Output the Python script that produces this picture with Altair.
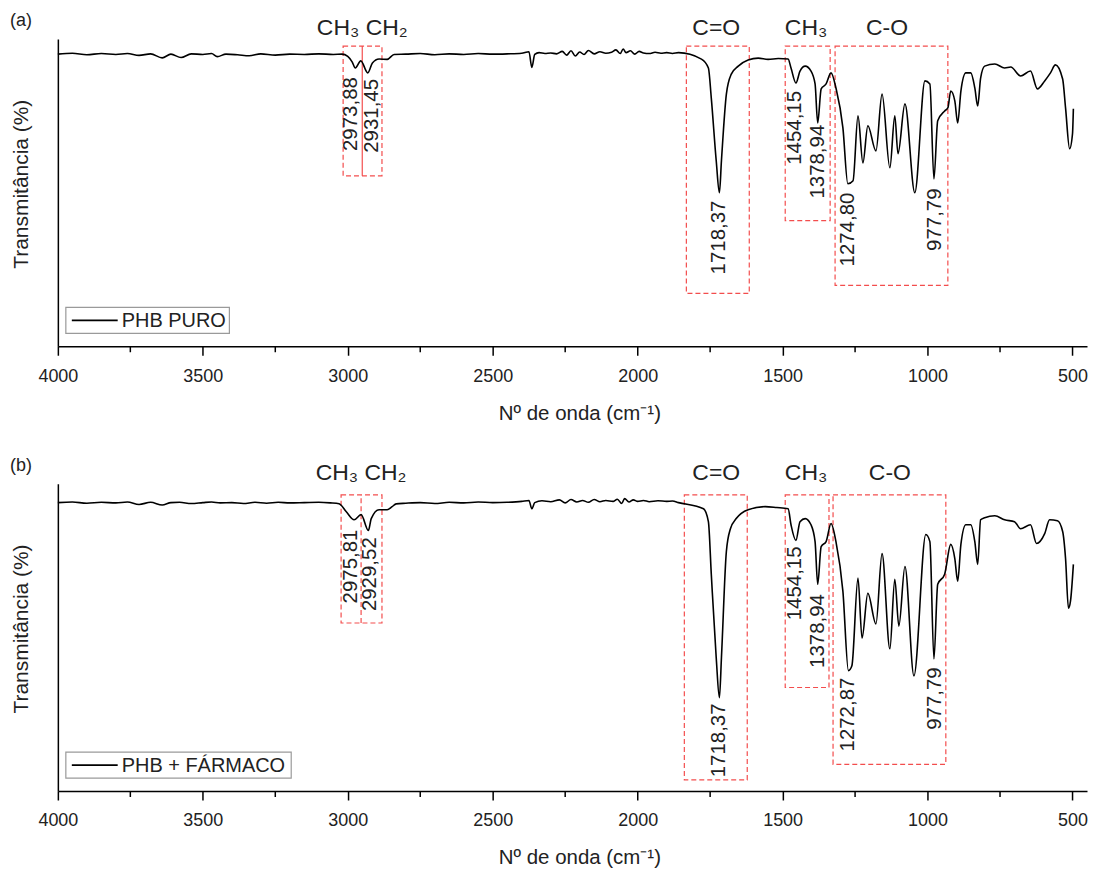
import altair as alt
import pandas as pd

FONT = "Liberation Sans"
TXT = "#222222"
RED = "#f23a3a"

# ---------------- spectrum (a): PHB PURO ----------------
wn_a = [4000, 3950, 3900, 3850, 3800, 3760, 3720, 3680, 3640, 3610, 3575, 3540, 3500, 3470, 3450,
        3420, 3380, 3340, 3300, 3250, 3200, 3150, 3100, 3050, 3020, 3000, 2985, 2974, 2955, 2931,
        2915, 2892, 2864, 2840, 2800, 2750, 2700, 2650, 2600, 2550, 2500, 2450, 2400, 2375, 2365,
        2355, 2340, 2320, 2300, 2280, 2260, 2245, 2230, 2215, 2200, 2185, 2170, 2150, 2130, 2110,
        2090, 2075, 2060, 2050, 2040, 2025, 2010, 1995, 1980, 1960, 1940, 1920, 1900, 1880, 1859,
        1780, 1756, 1746, 1729, 1718, 1711, 1694, 1677, 1653, 1619, 1584, 1550, 1515, 1481, 1471,
        1454, 1440, 1422, 1402, 1388, 1379, 1367, 1350, 1333, 1316, 1292, 1275, 1257, 1240, 1223,
        1206, 1178, 1157, 1130, 1113, 1102, 1078, 1044, 1009, 992, 978, 965, 941, 930, 920,
        906, 896, 885, 868, 851, 837, 827, 817, 803, 768, 734, 713, 679, 645, 621,
        596, 576, 559, 534, 524, 510, 500, 497]
t_a = [95.1, 95.4, 94.9, 95.3, 95.0, 95.3, 94.7, 95.2, 93.9, 95.1, 94.0, 95.2, 95.0, 95.3, 94.3,
       95.1, 94.9, 94.6, 95.2, 94.8, 95.1, 95.0, 95.2, 95.0, 95.1, 94.4, 92.6, 90.6, 92.9, 89.0,
       92.2, 93.5, 93.4, 95.0, 95.1, 95.3, 94.9, 95.2, 95.0, 95.3, 95.1, 95.2, 95.4, 95.9, 90.8,
       95.0, 95.6, 95.3, 95.5, 95.2, 96.0, 94.8, 96.2, 94.5, 95.8, 95.0, 96.3, 95.2, 95.9, 95.4,
       95.7, 96.5, 95.3, 96.8, 95.6, 96.2, 95.1, 96.0, 95.5, 95.3, 95.7, 95.4, 95.6, 95.3, 95.6,
       93.5, 90.6, 80.8, 60.4, 50.0, 60.4, 82.1, 88.6, 91.2, 93.2, 93.8, 93.4, 93.7, 93.5, 90.6,
       85.7, 89.6, 91.2, 89.6, 85.4, 72.7, 83.8, 85.4, 89.0, 84.1, 71.1, 52.9, 53.9, 75.0, 59.7,
       71.8, 63.6, 82.1, 58.1, 75.0, 62.7, 78.9, 50.0, 86.4, 85.4, 54.5, 73.4, 76.6, 77.6, 83.1,
       79.9, 72.7, 83.1, 89.0, 89.0, 84.1, 78.2, 87.3, 91.2, 91.9, 90.6, 90.9, 88.0, 89.6, 83.8,
       86.4, 89.0, 91.6, 87.0, 77.6, 64.3, 69.2, 77.3]

# ---------------- spectrum (b): PHB + FÁRMACO ----------------
wn_b = [4000, 3950, 3900, 3850, 3800, 3760, 3720, 3680, 3640, 3610, 3580, 3540, 3500, 3470, 3440,
        3400, 3360, 3320, 3280, 3240, 3200, 3150, 3100, 3060, 3030, 3005, 2978, 2954, 2929, 2919,
        2892, 2864, 2847, 2833, 2800, 2750, 2700, 2650, 2600, 2550, 2500, 2450, 2400, 2375, 2365,
        2355, 2330, 2300, 2270, 2250, 2230, 2210, 2190, 2170, 2150, 2130, 2110, 2085, 2070, 2055,
        2045, 2030, 2015, 2000, 1980, 1960, 1930, 1900, 1880, 1859, 1773, 1756, 1746, 1729, 1718,
        1711, 1694, 1680, 1660, 1619, 1560, 1520, 1481, 1471, 1454, 1440, 1422, 1402, 1388, 1379,
        1367, 1350, 1333, 1316, 1292, 1273, 1261, 1240, 1226, 1206, 1178, 1157, 1130, 1113, 1099,
        1078, 1047, 1006, 992, 978, 965, 941, 920, 906, 896, 885, 868, 851, 837, 827,
        817, 803, 768, 734, 700, 679, 645, 624, 596, 579, 552, 534, 524, 514, 507, 497]
t_b = [93.9, 94.1, 93.7, 94.0, 93.8, 94.1, 93.3, 94.0, 93.1, 93.9, 94.0, 93.6, 93.9, 94.1, 93.8,
       93.9, 93.6, 94.0, 93.7, 94.0, 93.8, 93.9, 94.0, 93.8, 93.5, 90.9, 88.3, 90.0, 84.8, 88.7,
       91.6, 91.6, 92.6, 93.5, 93.7, 93.9, 93.6, 94.0, 93.8, 94.1, 93.9, 94.0, 94.3, 94.6, 91.9,
       93.9, 94.5, 94.2, 94.8, 93.8, 94.9, 94.1, 94.6, 94.0, 94.9, 94.2, 94.6, 94.3, 95.0, 93.6,
       95.2, 94.1, 94.8, 94.3, 94.6, 94.2, 94.5, 94.3, 94.4, 93.9, 91.9, 87.7, 70.6, 43.4, 30.4,
       43.4, 78.0, 85.4, 88.7, 91.6, 92.6, 92.3, 91.9, 86.7, 81.6, 87.7, 88.7, 86.7, 81.2, 67.3,
       79.6, 81.2, 87.1, 81.2, 65.0, 39.2, 40.8, 69.3, 49.8, 64.4, 54.4, 77.3, 46.3, 68.9, 53.7,
       73.1, 37.5, 83.5, 81.2, 43.0, 67.3, 70.6, 80.3, 75.7, 68.3, 80.3, 86.7, 86.7, 81.2, 73.8,
       88.3, 89.0, 89.6, 88.3, 87.7, 85.4, 86.7, 80.6, 83.8, 88.3, 88.0, 84.5, 75.7, 59.5, 61.8, 73.8]

# ---------------- annotations ----------------
group_text = ["CH\u2083 CH\u2082", "C=O", "CH\u2083", "C-O"]
group_x_a = [2950, 1729, 1419, 1140]
group_x_b = [2954, 1729, 1419, 1130]

box_x1_a = [3016, 1832, 1491, 1319]
box_x2_a = [2882, 1615, 1336, 930]
box_lo_a = [55.5, 17.2, 40.9, 19.8]
box_hi_a = [97.7, 97.7, 97.7, 97.7]
div_x_a = [2950]

box_x1_b = [3023, 1839, 1491, 1326]
box_x2_b = [2882, 1622, 1340, 937]
box_lo_b = [54.7, 3.6, 33.7, 8.7]
box_hi_b = [96.4, 96.4, 96.4, 96.4]
div_x_b = [2954]

peak_text_a = ["2973,88", "2931,45", "1718,37", "1454,15", "1378,94", "1274,80", "977,79"]
peak_x_a = [2988, 2916, 1718, 1457, 1378, 1274, 975]
peak_y_a = [75.6, 75.0, 35.4, 71.1, 60.1, 38.0, 41.2]

peak_text_b = ["2975,81", "2929,52", "1718,37", "1454,15", "1378,94", "1272,87", "977,79"]
peak_x_b = [2988, 2923, 1718, 1457, 1378, 1274, 975]
peak_y_b = [73.1, 70.6, 16.5, 67.6, 52.1, 24.9, 30.1]

major_ticks = [4000, 3500, 3000, 2500, 2000, 1500, 1000, 500]
minor_ticks = [3750, 3250, 2750, 2250, 1750, 1250, 750]

W, H = 1032, 308
X_TITLE = "Nº de onda (cm\u207b\u00b9)"
Y_TITLE = "Transmitância (%)"

xscale = alt.Scale(domain=[450, 4000], reverse=True, nice=False, zero=False)
yscale = alt.Scale(domain=[0, 100], nice=False, zero=False)
xaxis = alt.Axis(values=major_ticks, format="d", grid=False, tickSize=9, tickWidth=1.5,
                 tickColor="black", domainColor="black", domainWidth=1.5,
                 labelFont=FONT, labelFontSize=18, labelColor=TXT, labelPadding=12,
                 labelFlush=False, labelOverlap=False,
                 titleFont=FONT, titleFontSize=20.5, titleFontWeight="normal",
                 titleColor=TXT, titlePadding=18, titleX=523)
yaxis = alt.Axis(labels=False, ticks=False, grid=False, domainColor="black", domainWidth=1.5,
                 titleFont=FONT, titleFontSize=21, titleFontWeight="normal",
                 titleColor=TXT, titlePadding=26, titleY=145)


def X(field):
    return alt.X(field, type="quantitative", scale=xscale, axis=xaxis, title=X_TITLE)


def Y(field):
    return alt.Y(field, type="quantitative", scale=yscale, axis=yaxis, title=Y_TITLE)


def panel(letter, wn, t, label, legend_w, gx, bx1, bx2, blo, bhi, divx, div_dash,
          ptxt, px, py):
    spec = pd.DataFrame({"wn": wn, "T": t})
    line = alt.Chart(spec).mark_line(strokeWidth=1.6, color="black",
                                     interpolate="monotone").encode(x=X("wn"), y=Y("T"))
    boxes = pd.DataFrame({"x1": bx1, "x2": bx2, "lo": blo, "hi": bhi})
    rect = alt.Chart(boxes).mark_rect(fillOpacity=0, stroke=RED, strokeWidth=1.2,
                                      strokeDash=[5, 3], strokeOpacity=0.9).encode(
        x=X("x1"), x2="x2", y=Y("lo"), y2="hi")
    div = pd.DataFrame({"x": divx, "lo": [blo[0]], "hi": [bhi[0]]})
    dkw = dict(strokeDash=[5, 3]) if div_dash else {}
    divider = alt.Chart(div).mark_rule(color=RED, strokeWidth=1.2, opacity=0.9, **dkw).encode(
        x=X("x"), y=Y("lo"), y2="hi")
    peaks = pd.DataFrame({"txt": ptxt, "x": px, "y": py})
    ptext = alt.Chart(peaks).mark_text(angle=270, font=FONT, fontSize=20.5, color=TXT,
                                       align="center", baseline="middle").encode(
        x=X("x"), y=Y("y"), text="txt:N")
    groups = pd.DataFrame({"txt": group_text, "x": gx})
    gtext = alt.Chart(groups).mark_text(font=FONT, fontSize=23, color=TXT,
                                        align="center", baseline="middle").encode(
        x=X("x"), y=alt.value(-11), text="txt:N")
    minor = pd.DataFrame({"x": minor_ticks})
    mticks = alt.Chart(minor).mark_rule(color="black", strokeWidth=1.5).encode(
        x=X("x"), y=alt.value(H), y2=alt.value(H + 6))
    let = pd.DataFrame({"txt": [letter]})
    ltext = alt.Chart(let).mark_text(font=FONT, fontSize=18, color=TXT, align="left",
                                     baseline="middle").encode(
        x=alt.value(-48), y=alt.value(-18), text="txt:N")
    # legend box (manual, to match the framed single-entry legend)
    leg = pd.DataFrame({"txt": [label]})
    lbox = alt.Chart(leg).mark_rect(fill="white", stroke="#9a9a9a", strokeWidth=1.2).encode(
        x=alt.value(8), x2=alt.value(8 + legend_w), y=alt.value(269), y2=alt.value(295))
    lline = alt.Chart(leg).mark_rule(color="black", strokeWidth=1.6).encode(
        x=alt.value(14), x2=alt.value(60), y=alt.value(282))
    llab = alt.Chart(leg).mark_text(font=FONT, fontSize=20, color=TXT, align="left",
                                    baseline="middle").encode(
        x=alt.value(64), y=alt.value(283), text="txt:N")
    return alt.layer(rect, divider, line, ptext, gtext, mticks, ltext,
                     lbox, lline, llab).properties(width=W, height=H)


pa = panel("(a)", wn_a, t_a, "PHB PURO", 164, group_x_a, box_x1_a, box_x2_a, box_lo_a,
           box_hi_a, div_x_a, False, peak_text_a, peak_x_a, peak_y_a)
pb = panel("(b)", wn_b, t_b, "PHB + FÁRMACO", 226, group_x_b, box_x1_b, box_x2_b, box_lo_b,
           box_hi_b, div_x_b, True, peak_text_b, peak_x_b, peak_y_b)

chart = alt.vconcat(pa, pb, spacing=33).properties(
    padding={"left": 2, "top": 3, "right": 0, "bottom": 0}
).configure_view(stroke=None)

chart.save("out.html", embed_options={"renderer": "svg", "actions": False})
